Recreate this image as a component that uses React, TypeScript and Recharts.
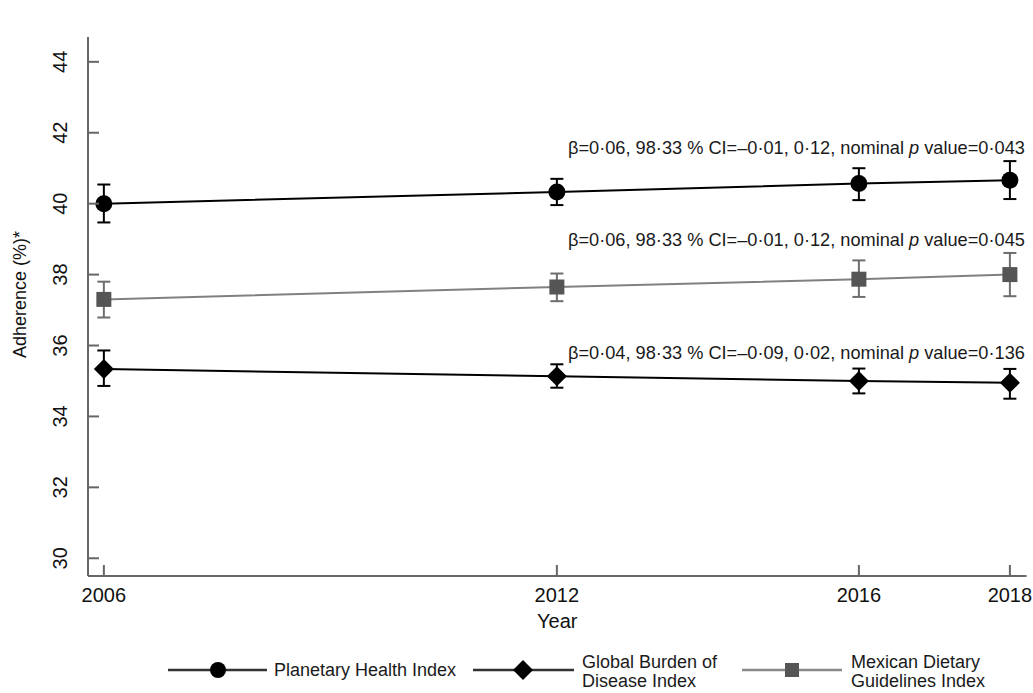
import React from "react";
import { LineChart, Line, XAxis, YAxis, ErrorBar, ReferenceDot, Label } from "recharts";

const years = [2006, 2012, 2016, 2018];

const phiMean = [40.0, 40.33, 40.57, 40.66];
const phiLower = [39.47, 39.96, 40.1, 40.13];
const phiUpper = [40.54, 40.7, 41.0, 41.2];

const gbdMean = [35.34, 35.13, 35.0, 34.95];
const gbdLower = [34.86, 34.81, 34.65, 34.5];
const gbdUpper = [35.86, 35.47, 35.35, 35.34];

const mdgMean = [37.3, 37.65, 37.87, 38.0];
const mdgLower = [36.79, 37.25, 37.37, 37.39];
const mdgUpper = [37.8, 38.03, 38.4, 38.61];

const yTicks = [30, 32, 34, 36, 38, 40, 42, 44];

const annotations = [
  { y: 41.57, beta: "0·06", ci: "–0·01, 0·12", p: "0·043" },
  { y: 38.97, beta: "0·06", ci: "–0·01, 0·12", p: "0·045" },
  { y: 35.78, beta: "0·04", ci: "–0·09, 0·02", p: "0·136" },
];

const FONT = "'Liberation Sans', Arial, sans-serif";
const AXIS = "#666";
const GRAY_LINE = "#808080";
const GRAY_BAR = "#6e6e6e";
const SQUARE = "#555";

const rows = years.map((year, i) => ({
  year,
  phi: phiMean[i],
  phiErr: [phiMean[i] - phiLower[i], phiUpper[i] - phiMean[i]],
  gbd: gbdMean[i],
  gbdErr: [gbdMean[i] - gbdLower[i], gbdUpper[i] - gbdMean[i]],
  mdg: mdgMean[i],
  mdgErr: [mdgMean[i] - mdgLower[i], mdgUpper[i] - mdgMean[i]],
}));

const CircleDot = (props: any) => {
  const { cx, cy } = props;
  return <circle cx={cx} cy={cy} r={8.5} fill="#000" />;
};

const DiamondDot = (props: any) => {
  const { cx, cy } = props;
  const h = 10;
  return <path d={`M${cx},${cy - h} L${cx + h},${cy} L${cx},${cy + h} L${cx - h},${cy} Z`} fill="#000" />;
};

const SquareDot = (props: any) => {
  const { cx, cy } = props;
  return <rect x={cx - 7.5} y={cy - 7.5} width={15} height={15} fill={SQUARE} />;
};

const XTick = ({ x, y, payload }: any) => (
  <g>
    <line x1={x} x2={x} y1={y} y2={y - 11} stroke={AXIS} strokeWidth={2} />
    <text x={x} y={y + 26} textAnchor="middle" fontSize={20} fontFamily={FONT} fill="#111">
      {payload.value}
    </text>
  </g>
);

const YTick = ({ x, y, payload }: any) => (
  <g>
    <line x1={x} x2={x + 11} y1={y} y2={y} stroke={AXIS} strokeWidth={2} />
    <text
      x={x - 28}
      y={y}
      textAnchor="middle"
      dominantBaseline="central"
      fontSize={20}
      fontFamily={FONT}
      fill="#111"
      transform={`rotate(-90, ${x - 28}, ${y})`}
    >
      {payload.value}
    </text>
  </g>
);

const annotText = (a: (typeof annotations)[number]) => (props: any) => {
  const { viewBox } = props;
  return (
    <text x={viewBox.x + 15} y={viewBox.y} textAnchor="end" dominantBaseline="central" fontSize={18.2} fontFamily={FONT} fill="#1a1a1a">
      {`β=${a.beta}, 98·33 % CI=${a.ci}, nominal `}
      <tspan fontStyle="italic">p</tspan>
      {` value=${a.p}`}
    </text>
  );
};

const legendText = { fontSize: 18, fontFamily: FONT, fill: "#1a1a1a" };

function ChartLegend() {
  return (
    <svg width={1033} height={693} style={{ position: "absolute", left: 0, top: 0, pointerEvents: "none" }}>
      <line x1={168} x2={267} y1={670} y2={670} stroke="#333" strokeWidth={2.5} />
      <circle cx={218} cy={670} r={8} fill="#000" />
      <text x={274} y={670} dominantBaseline="central" {...legendText}>Planetary Health Index</text>

      <line x1={473} x2={574} y1={670} y2={670} stroke="#333" strokeWidth={2.5} />
      <path d="M523,660 L533,670 L523,680 L513,670 Z" fill="#000" />
      <text x={582} y={662} dominantBaseline="central" {...legendText}>Global Burden of</text>
      <text x={582} y={681} dominantBaseline="central" {...legendText}>Disease Index</text>

      <line x1={742} x2={842} y1={670} y2={670} stroke="#888" strokeWidth={2.5} />
      <rect x={785} y={663} width={14} height={14} fill={SQUARE} />
      <text x={851} y={662} dominantBaseline="central" {...legendText}>Mexican Dietary</text>
      <text x={851} y={681} dominantBaseline="central" {...legendText}>Guidelines Index</text>
    </svg>
  );
}

export default function App() {
  return (
    <div style={{ position: "absolute", left: 0, top: 0, width: 1033, height: 693, background: "#fff" }}>
      <LineChart width={1033} height={693} data={rows} margin={{ top: 37, right: 6.5, left: 0, bottom: 57 }}>
        <XAxis
          dataKey="year"
          type="number"
          domain={[2005.79, 2018.22]}
          ticks={years}
          allowDataOverflow
          height={60}
          tickSize={0}
          tickMargin={0}
          tickLine={false}
          axisLine={{ stroke: AXIS, strokeWidth: 2 }}
          tick={<XTick />}
        >
          <Label value="Year" position="insideBottom" offset={8} fontSize={20} fontFamily={FONT} fill="#111" />
        </XAxis>
        <YAxis
          type="number"
          domain={[29.5, 44.7]}
          ticks={yTicks}
          allowDataOverflow
          width={88}
          tickSize={0}
          tickMargin={0}
          tickLine={false}
          axisLine={{ stroke: AXIS, strokeWidth: 2 }}
          tick={<YTick />}
        >
          <Label
            value="Adherence (%)*"
            angle={-90}
            position="insideLeft"
            offset={20}
            dy={-12}
            fontSize={18}
            fontFamily={FONT}
            fill="#111"
            style={{ textAnchor: "middle" }}
          />
        </YAxis>

        <Line dataKey="mdg" stroke={GRAY_LINE} strokeWidth={2} dot={<SquareDot />} activeDot={false} isAnimationActive={false}>
          <ErrorBar dataKey="mdgErr" width={6.5} stroke={GRAY_BAR} strokeWidth={2} direction="y" />
        </Line>
        <Line dataKey="gbd" stroke="#000" strokeWidth={2} dot={<DiamondDot />} activeDot={false} isAnimationActive={false}>
          <ErrorBar dataKey="gbdErr" width={6.5} stroke="#000" strokeWidth={2} direction="y" />
        </Line>
        <Line dataKey="phi" stroke="#000" strokeWidth={2} dot={<CircleDot />} activeDot={false} isAnimationActive={false}>
          <ErrorBar dataKey="phiErr" width={6.5} stroke="#000" strokeWidth={2} direction="y" />
        </Line>

        {annotations.map((a, i) => (
          <ReferenceDot key={i} x={2018} y={a.y} r={0} fill="none" stroke="none" ifOverflow="visible" label={{ content: annotText(a) }} />
        ))}
      </LineChart>
      <ChartLegend />
    </div>
  );
}
